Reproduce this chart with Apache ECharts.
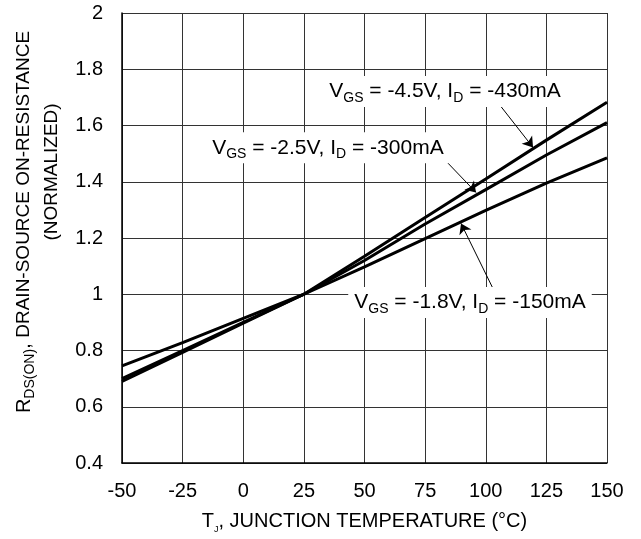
<!DOCTYPE html>
<html><head><meta charset="utf-8">
<script src="https://cdn.jsdelivr.net/npm/echarts@6/dist/echarts.min.js"></script>
<style>html,body{margin:0;padding:0;background:#fff}#c{width:641px;height:539px}</style>
</head><body><div id="c"></div>
<script>
// ---- data ----
const temps = [-50, -25, 0, 25, 50, 75, 100, 125, 150];
const rds45 = [0.690, 0.793, 0.897, 1.000, 1.135, 1.273, 1.410, 1.548, 1.683]; // VGS=-4.5V, ID=-430mA
const rds25 = [0.700, 0.800, 0.900, 1.000, 1.120, 1.250, 1.372, 1.495, 1.610]; // VGS=-2.5V, ID=-300mA
const rds18 = [0.745, 0.828, 0.914, 1.000, 1.097, 1.198, 1.298, 1.395, 1.485]; // VGS=-1.8V, ID=-150mA
const xTicks = [-50, -25, 0, 25, 50, 75, 100, 125, 150];
const yTicks = [0.4, 0.6, 0.8, 1, 1.2, 1.4, 1.6, 1.8, 2];
const noteVgs = ['-4.5V', '-2.5V', '-1.8V'];
const noteId = ['-430mA', '-300mA', '-150mA'];
// annotation anchors in data units: label centre, arrow tail, arrow head
const noteAt = [[83.2, 1.721], [34.9, 1.521], [93.5, 0.971]];
const arrowTail = [[105.5, 1.676], [84.0, 1.470], [103.8, 1.006]];
const arrowHead = [[119.5, 1.522], [96.0, 1.362], [89.8, 1.252]];

const F = 'Liberation Sans, Arial, sans-serif';
const FN = 'Liberation Sans Narrow, Liberation Sans, Arial, sans-serif';
const rich = {
  n: {fontFamily: F, fontSize: 21, color: '#000', lineHeight: 27},
  s: {fontFamily: F, fontSize: 14, color: '#000', lineHeight: 15, verticalAlign: 'bottom'}
};
function pairs(ys) { return temps.map((t, i) => [t, ys[i]]); }
const lineStyle = {color: '#000', width: 3};
function mkSeries(name, ys) {
  return {name, type: 'line', data: pairs(ys), showSymbol: false, symbol: 'none',
    lineStyle, itemStyle: {color: '#000'}, silent: true, z: 3};
}
const series = [mkSeries('-4.5V', rds45), mkSeries('-2.5V', rds25), mkSeries('-1.8V', rds18)];
series[0].markPoint = {
  silent: true, symbol: 'rect', symbolSize: 0, z: 5,
  data: noteAt.map((c, i) => ({
    coord: c,
    label: {show: true, position: 'inside', backgroundColor: '#fff', padding: [2, 6, 2, 6],
      formatter: '{n|V}{s|GS}{n| = ' + noteVgs[i] + ', I}{s|D}{n| = ' + noteId[i] + '}', rich}
  }))
};
series[0].markLine = {
  silent: true, symbol: ['none', 'arrow'], symbolSize: 10, z: 4,
  lineStyle: {color: '#000', width: 1, type: 'solid'}, label: {show: false},
  data: arrowTail.map((t, i) => [{coord: t}, {coord: arrowHead[i]}])
};

const chart = echarts.init(document.getElementById('c'), null, {renderer: 'canvas'});
chart.setOption({
  animation: false,
  backgroundColor: '#fff',
  grid: {left: 122, right: 34, top: 13, bottom: 67, show: false},
  xAxis: {
    type: 'value', min: xTicks[0], max: xTicks[xTicks.length - 1], interval: 25,
    axisLine: {show: true, onZero: false, lineStyle: {color: '#000', width: 1.5}},
    axisTick: {show: false},
    axisLabel: {margin: 18, color: '#000', fontFamily: F, fontSize: 20},
    splitLine: {show: true, lineStyle: {color: '#333', width: 1}},
    name: '{n|T}{s|J}{n|, JUNCTION TEMPERATURE (°C)}', nameLocation: 'middle', nameGap: 45,
    nameTextStyle: {rich: {
      n: {fontFamily: F, fontSize: 20, color: '#000', lineHeight: 26},
      s: {fontFamily: F, fontSize: 9, color: '#000', lineHeight: 10, verticalAlign: 'bottom'}
    }}
  },
  yAxis: {
    type: 'value', min: yTicks[0], max: yTicks[yTicks.length - 1], interval: 0.2,
    axisLine: {show: true, onZero: false, lineStyle: {color: '#000', width: 1.5}},
    axisTick: {show: false},
    axisLabel: {margin: 19, color: '#000', fontFamily: F, fontSize: 20,
      formatter: v => String(Math.round(v * 10) / 10)},
    splitLine: {show: true, lineStyle: {color: '#333', width: 1}}
  },
  graphic: [
    {type: 'text', x: 24, y: 222, rotation: Math.PI / 2,
      style: {text: '{n|R}{s|DS(ON)}{n|, }{m|DRAIN-SOURCE ON-RESISTANCE}', align: 'center', verticalAlign: 'middle',
        rich: {
          n: {fontFamily: F, fontSize: 20, fill: '#000', lineHeight: 26},
          m: {fontFamily: FN, fontSize: 19, fill: '#000', lineHeight: 26},
          s: {fontFamily: F, fontSize: 14, fill: '#000', lineHeight: 14, verticalAlign: 'bottom'}
        }}},
    {type: 'text', x: 52, y: 172, rotation: Math.PI / 2,
      style: {text: '(NORMALIZED)', align: 'center', verticalAlign: 'middle',
        font: '19px ' + FN, fill: '#000'}}
  ],
  series
});
</script>
</body></html>
